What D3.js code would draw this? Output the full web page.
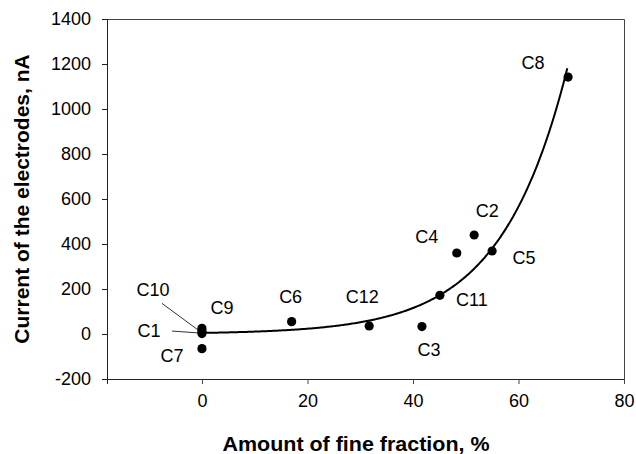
<!DOCTYPE html>
<html>
<head>
<meta charset="utf-8">
<script src="https://cdn.jsdelivr.net/npm/d3@7"></script>
<style>
  html, body { margin: 0; padding: 0; background: #fff; }
  svg { display: block; font-family: "Liberation Sans", Arial, Helvetica, sans-serif; }
</style>
</head>
<body>
<svg id="chart" width="636" height="454"></svg>
<script>
// ---- data ----
const sampleNames = ["C1", "C2", "C3", "C4", "C5", "C6", "C7", "C8", "C9", "C10", "C11", "C12"];
const fineFraction = [0, 51.6, 41.7, 48.3, 55.0, 17.0, 0, 69.4, 0, 0, 45.1, 31.7];
const currentNA = [2, 440, 33, 360, 369, 55, -65, 1142, 12, 25, 172, 36];
const xTicks = [0, 20, 40, 60, 80];
const yTicks = [-200, 0, 200, 400, 600, 800, 1000, 1200, 1400];
// exponential trendline y = a * exp(b * x), shown from x = 0 to trendEnd
const trendA = 4.8;
const trendB = 0.0795;
const trendEnd = 69.3;

// ---- layout ----
const svg = d3.select("#chart");
const mLeft = 107, mRight = 624, mTop = 19, mBottom = 379;
const x = d3.scaleLinear().domain([-18, 80]).range([mLeft, mRight]);
const y = d3.scaleLinear().domain([-200, 1400]).range([mBottom, mTop]);

// label offsets (text centre relative to point, px)
const labelOffsets = {
  C8: [-35, -14], C2: [13, -24], C4: [-30, -16], C5: [32, 7], C11: [32, 5],
  C12: [-7, -29], C3: [7, 23], C6: [-1, -25], C9: [20, -23], C7: [-30, 7],
  C10: [-49, -38], C1: [-53, -3]
};

// frame (top and right)
svg.append("path")
  .attr("d", `M${mLeft},${mTop + 0.5}H${mRight + 0.5}V${mBottom}`)
  .attr("fill", "none").attr("stroke", "#444").attr("stroke-width", 1);

// axes
const fmt = d => String(d);
const yAxis = d3.axisLeft(y).tickValues(yTicks).tickSize(5).tickPadding(11).tickFormat(fmt);
const gy = svg.append("g").attr("transform", `translate(${mLeft},0)`).call(yAxis);
const xAxis = d3.axisBottom(x).tickValues(xTicks).tickSize(5).tickPadding(10).tickFormat(fmt);
const gx = svg.append("g").attr("transform", `translate(0,${mBottom})`).call(xAxis);
[gx, gy].forEach(g => {
  g.selectAll("path,line").attr("stroke", "#222").attr("stroke-width", 1);
  g.selectAll("text").attr("font-size", 18).attr("fill", "#000")
    .attr("font-family", '"Liberation Sans", Arial, sans-serif');
});
gx.selectAll(".tick line").attr("stroke", "#444");

// axis titles
svg.append("text")
  .attr("x", 356).attr("y", 451)
  .attr("text-anchor", "middle").attr("font-weight", "bold").attr("font-size", 21)
  .attr("textLength", 267).attr("lengthAdjust", "spacingAndGlyphs")
  .text("Amount of fine fraction, %");
svg.append("text")
  .attr("transform", "translate(29,199) rotate(-90)")
  .attr("text-anchor", "middle").attr("font-weight", "bold").attr("font-size", 21)
  .text("Current of the electrodes, nA");

// trendline
const trendXs = d3.range(0, trendEnd + 0.001, 0.25);
svg.append("path")
  .datum(trendXs)
  .attr("fill", "none").attr("stroke", "#000").attr("stroke-width", 2)
  .attr("d", d3.line().x(d => x(d)).y(d => y(trendA * Math.exp(trendB * d))));

// points
const pts = sampleNames.map((n, i) => ({ name: n, fx: fineFraction[i], cy: currentNA[i] }));
svg.append("g").selectAll("circle").data(pts).join("circle")
  .attr("cx", d => x(d.fx)).attr("cy", d => y(d.cy)).attr("r", 4.6).attr("fill", "#000");

// leader lines for C10 and C1
const p10 = pts.find(p => p.name === "C10"), p1 = pts.find(p => p.name === "C1");
svg.append("line")
  .attr("x1", x(p10.fx) - 40).attr("y1", y(p10.cy) - 25).attr("x2", x(p10.fx) - 2).attr("y2", y(p10.cy) + 3)
  .attr("stroke", "#000").attr("stroke-width", 0.8);
svg.append("line")
  .attr("x1", x(p1.fx) - 30).attr("y1", y(p1.cy) - 2.5).attr("x2", x(p1.fx) - 2).attr("y2", y(p1.cy) - 0.5)
  .attr("stroke", "#000").attr("stroke-width", 0.8);

// labels
svg.append("g").selectAll("text").data(pts).join("text")
  .attr("x", d => x(d.fx) + labelOffsets[d.name][0])
  .attr("y", d => y(d.cy) + labelOffsets[d.name][1])
  .attr("text-anchor", "middle").attr("dominant-baseline", "central")
  .attr("font-size", 18).attr("fill", "#000")
  .text(d => d.name);
</script>
</body>
</html>
